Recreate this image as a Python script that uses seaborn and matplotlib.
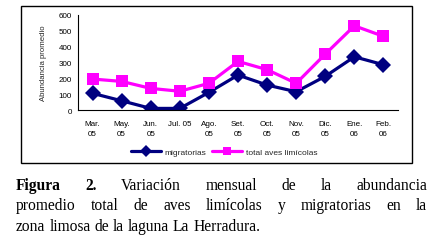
import matplotlib
matplotlib.use("Agg")
import matplotlib.pyplot as plt
import seaborn as sns
import pandas as pd
from matplotlib.patches import Rectangle
from matplotlib.ticker import FixedLocator
from matplotlib.lines import Line2D

months = ["Mar.\n05", "May.\n05", "Jun.\n05", "Jul. 05", "Ago.\n05", "Set.\n05",
          "Oct.\n05", "Nov.\n05", "Dic.\n05", "Ene.\n06", "Feb.\n06"]
migratorias = [105, 58, 10, 10, 111, 220, 157, 115, 212, 335, 285]
total_limicolas = [195, 180, 136, 118, 168, 306, 254, 168, 352, 530, 464]
series_names = ["migratorias", "total aves limícolas"]
yticks = [0, 100, 200, 300, 400, 500, 600]

sns.set_theme(style="white")
plt.rcParams['font.family'] = ['Liberation Sans', 'DejaVu Sans']

df = pd.DataFrame({
    "pos": list(range(len(months))) * 2,
    "valor": migratorias + total_limicolas,
    "serie": [series_names[0]] * len(months) + [series_names[1]] * len(months),
})

fig = plt.figure(figsize=(4.42, 2.53), dpi=100)
fig.patch.set_facecolor("white")
ax = fig.add_axes([78/442, 1-111/253, 320/442, (111-15.7)/253])

palette = {series_names[0]: "#000080", series_names[1]: "#FF00FF"}
markers = {series_names[0]: "D", series_names[1]: "s"}
sns.lineplot(data=df, x="pos", y="valor", hue="serie", style="serie",
             palette=palette, markers=markers, dashes=False, markersize=8.2,
             markeredgewidth=0, linewidth=2.3, ax=ax, legend=False, sort=False)

ax.set_xlim(-0.5, len(months) - 0.5)
ax.set_ylim(0, 600)
ax.set_yticks(yticks)
ax.set_yticklabels([str(v) for v in yticks], fontsize=5.8)
ax.set_xticks(range(len(months)))
ax.set_xticklabels(months, fontsize=5.8, linespacing=1.7)
ax.xaxis.set_minor_locator(FixedLocator([i - 0.5 for i in range(len(months) + 1)]))
ax.tick_params(axis="x", which="major", length=0, pad=7)
ax.tick_params(axis="x", which="minor", length=3, width=0.8, color="black", direction="out")
ax.tick_params(axis="y", which="major", length=3, width=0.8, color="black", direction="out", pad=1.5)
ax.set_xlabel("")
ax.set_ylabel("Abundancia promedio", fontsize=5.6, labelpad=8)
for s in ["top", "right"]:
    ax.spines[s].set_visible(False)
for s in ["left", "bottom"]:
    ax.spines[s].set_color("black")
    ax.spines[s].set_linewidth(0.8)
for t in ax.get_xticklabels() + ax.get_yticklabels():
    t.set_color("black")

handles = [Line2D([], [], color=palette[n], marker=markers[n], markersize=6,
                  markeredgewidth=0, linewidth=2.3) for n in series_names]
fig.legend(handles, series_names, loc="center", bbox_to_anchor=(224/442, 1-153/253),
           ncol=2, frameon=False, fontsize=6.0, handlelength=3.6, handletextpad=0.45,
           columnspacing=0.7, borderpad=0.2)

fig.add_artist(Rectangle((21/442, 1-164/253), 391/442, 157/253, transform=fig.transFigure,
                         fill=False, edgecolor="black", linewidth=1.0))

# caption (justified)
cap_lines = [
    [("Figura", True), ("2.", True), ("Variación", False), ("mensual", False), ("de", False),
     ("la", False), ("abundancia", False)],
    [("promedio", False), ("total", False), ("de", False), ("aves", False), ("limícolas", False),
     ("y", False), ("migratorias", False), ("en", False), ("la", False)],
    [("zona", False), ("limosa", False), ("de", False), ("la", False), ("laguna", False),
     ("La", False), ("Herradura.", False)],
]
baselines = [190, 210.5, 231]
left_px, right_px = 16, 427
fs = 11.2
renderer = fig.canvas.get_renderer()
for li, (words, base) in enumerate(zip(cap_lines, baselines)):
    texts = []
    for w, bold in words:
        t = fig.text(0, 1 - base/253, w, fontsize=fs, family="Liberation Serif",
                     fontweight="bold" if bold else "normal", va="baseline", ha="left",
                     color="black")
        texts.append(t)
    widths = [t.get_window_extent(renderer).width for t in texts]
    if li < len(cap_lines) - 1:
        gap = (right_px - left_px - sum(widths)) / (len(words) - 1)
    else:
        sp = fig.text(0, 0, "a a", fontsize=fs, family="Liberation Serif")
        aa = fig.text(0, 0, "aa", fontsize=fs, family="Liberation Serif")
        gap = sp.get_window_extent(renderer).width - aa.get_window_extent(renderer).width
        sp.remove(); aa.remove()
    x = left_px
    for t, w in zip(texts, widths):
        t.set_x(x / 442)
        x += w + gap

fig.savefig("out.png", dpi=100, facecolor="white")
